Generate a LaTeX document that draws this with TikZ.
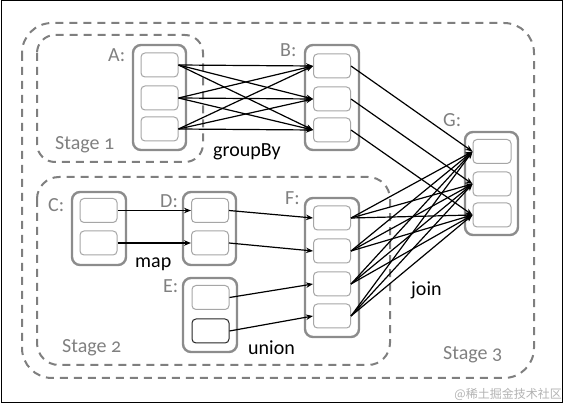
\documentclass[tikz,border=0pt]{standalone}
\usepackage{fontspec}
\setmainfont{Carlito}[Numbers=OldStyle]
\newfontfamily\cjkfont{Noto Sans CJK SC}
\usetikzlibrary{arrows.meta}
\definecolor{stagegray}{HTML}{7F7F7F}
\definecolor{contgray}{HTML}{8C8C8C}
\definecolor{cellgray}{HTML}{A6A6A6}
\definecolor{labgray}{HTML}{808080}
\tikzset{
  stagebox/.style={draw=stagegray, line width=2pt, dash pattern=on 8pt off 6pt},
  cont/.style={draw=contgray, line width=2.4pt, rounded corners=8pt, fill=white, inner sep=0pt},
  cell/.style={draw=cellgray, line width=1pt, rounded corners=4pt, fill=white, inner sep=0pt, minimum width=37pt, minimum height=24pt},
  lab/.style={anchor=base west, inner sep=0pt, text=labgray, font=\fontsize{20}{24}\selectfont},
  oplab/.style={anchor=base west, inner sep=0pt, text=black, font=\fontsize{20}{24}\selectfont},
  flow/.style={line width=1.2pt, -{Stealth[length=7pt,width=5.5pt]}},
}
\begin{document}
\begin{tikzpicture}[x=1pt,y=-1pt]
\useasboundingbox (0,0) rectangle (566,406);
\draw[black, line width=1pt] (1,1) rectangle (562,403);
% stages
\draw[stagebox, rounded corners=30pt] (22,23) rectangle (534,378);
\draw[stagebox, rounded corners=18pt] (37,35) rectangle (203,162);
\draw[stagebox, rounded corners=22pt] (37,177) rectangle (390,365);
% containers
\node[cont, minimum width=53pt, minimum height=105pt] (A) at (159.5,97.5) {};
\node[cont, minimum width=54pt, minimum height=105pt] (B) at (332,97.5) {};
\node[cont, minimum width=53pt, minimum height=103pt] (G) at (491.5,183.5) {};
\node[cont, minimum width=54pt, minimum height=73pt] (C) at (99,228.5) {};
\node[cont, minimum width=53pt, minimum height=73pt] (D) at (209.5,228.5) {};
\node[cont, minimum width=54pt, minimum height=74pt] (E) at (210,315) {};
\node[cont, minimum width=54pt, minimum height=139pt] (F) at (332,267.5) {};
% cells
\node[cell] (a1) at (159.5,65) {};
\node[cell] (a2) at (159.5,98) {};
\node[cell] (a3) at (159.5,129) {};
\node[cell] (b1) at (332,66) {};
\node[cell] (b2) at (332,99) {};
\node[cell] (b3) at (332,130) {};
\node[cell, minimum width=38pt] (g1) at (492,151.5) {};
\node[cell, minimum width=38pt] (g2) at (492,184) {};
\node[cell, minimum width=38pt] (g3) at (492,215) {};
\node[cell] (c1) at (98.5,210.5) {};
\node[cell] (c2) at (98.5,243) {};
\node[cell] (d1) at (210,210.5) {};
\node[cell] (d2) at (210,243) {};
\node[cell] (e1) at (210.5,297.5) {};
\node[cell, draw=black!85] (e2) at (210.5,331) {};
\node[cell] (f1) at (332,218) {};
\node[cell] (f2) at (332,251) {};
\node[cell] (f3) at (332,284) {};
\node[cell] (f4) at (332,316) {};
% labels
\node[lab] (lA) at (108,62) {A:};
\node[lab] (lB) at (280,57) {B:};
\node[lab] (lG) at (443,127) {G:};
\node[lab] (lC) at (48,212) {C:};
\node[lab] (lD) at (160,208) {D:};
\node[lab] (lE) at (163,293) {E:};
\node[lab] (lF) at (285,205) {F:};
\node[lab] (s1) at (55,150) {Stage 1};
\node[lab] (s2) at (62,353) {Stage 2};
\node[lab] (s3) at (443,360) {Stage 3};
\node[oplab] (op1) at (213,157) {groupBy};
\node[oplab] (op2) at (135,268) {map};
\node[oplab] (op3) at (248,355) {union};
\node[oplab] (op4) at (411,296) {join};
\node[anchor=base east, inner sep=0pt, text=black!30, font=\cjkfont\fontsize{12}{14}\selectfont] (wm) at (562,399) {@稀土掘金技术社区};
% arrows
\foreach \s in {a1,a2,a3}
  \foreach \t in {b1,b2,b3}
    \draw[flow] (\s.east) -- (\t.west);
\draw[flow] (b1.east) -- (g1.west);
\draw[flow] (b2.east) -- (g2.west);
\draw[flow] (b3.east) -- (g3.west);
\foreach \s in {f1,f2,f3,f4}
  \foreach \t in {g1,g2,g3}
    \draw[flow] (\s.east) -- (\t.west);
\draw[flow] (c1.east) -- (d1.west);
\draw[flow] (c2.east) -- (d2.west);
\draw[flow] (d1.east) -- (f1.west);
\draw[flow] (d2.east) -- (f2.west);
\draw[flow] (e1.east) -- (f3.west);
\draw[flow] (e2.east) -- (f4.west);
\end{tikzpicture}
\end{document}
